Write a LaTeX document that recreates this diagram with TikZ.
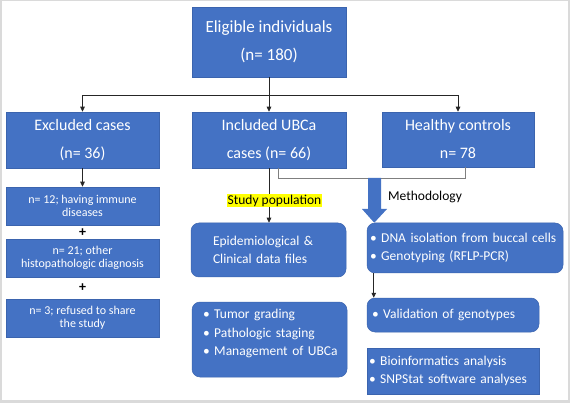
\documentclass[tikz,border=0pt]{standalone}
\usepackage{fontspec}
\setmainfont{Carlito}
\usetikzlibrary{arrows.meta,calc}
\definecolor{boxblue}{HTML}{4472C4}
\definecolor{boxedge}{HTML}{3B64AE}
\definecolor{lnk}{HTML}{262626}
\definecolor{glnk}{HTML}{7F7F7F}
\definecolor{framegray}{HTML}{DADADA}
\definecolor{hl}{HTML}{FFFF00}
\tikzset{
  bx/.style={fill=boxblue, draw=boxedge, line width=0.5pt, text=white, inner sep=1pt, align=center},
  rbx/.style={bx, rounded corners=8pt, align=left, inner ysep=0pt},
  lvA/.style={font=\fontsize{17}{28}\selectfont},
  lvB/.style={font=\fontsize{16}{28}\selectfont},
  lvC/.style={font=\fontsize{12}{13.5}\selectfont},
  lvD/.style={font=\fontsize{13.5}{18}\selectfont},
  arr/.style={draw=lnk, line width=0.8pt, -{Triangle[length=5pt,width=4.5pt]}},
  ln/.style={draw=lnk, line width=0.8pt},
  gln/.style={draw=glnk, line width=0.8pt},
  lbl/.style={text=black, inner sep=1pt, font=\fontsize{13.5}{16}\selectfont},
}
\begin{document}
\begin{tikzpicture}[x=1pt,y=-1pt]
\fill[framegray] (0,0) rectangle (570,403);
\fill[white] (1.5,1.5) rectangle (567.5,399.5);
\useasboundingbox (0,0) rectangle (570,403);

% top
\node[bx, lvA, minimum width=154pt, minimum height=70pt] (top) at (269,42) {Eligible individuals\\(n= 180)};

% level 2
\node[bx, lvB, minimum width=153pt, minimum height=56pt] (excl) at (82.5,140) {Excluded cases\\(n= 36)};
\node[bx, lvB, minimum width=154pt, minimum height=56pt] (incl) at (269,140) {Included UBCa\\cases (n= 66)};
\node[bx, lvB, minimum width=152pt, minimum height=55pt] (healthy) at (458,139.5) {Healthy controls\\n= 78};

% excluded details
\node[bx, lvC, minimum width=153pt, minimum height=38pt] (n12) at (82.5,206) {n= 12; having immune\\diseases};
\node[font=\fontsize{14}{14}\selectfont\bfseries, inner sep=0pt] (p1) at (82.5,232.5) {+};
\node[bx, lvC, minimum width=153pt, minimum height=38pt] (n21) at (82.5,258) {n= 21; other\\histopathologic diagnosis};
\node[font=\fontsize{14}{14}\selectfont\bfseries, inner sep=0pt] (p2) at (82.5,288) {+};
\node[bx, lvC, minimum width=153pt, minimum height=38pt] (n3) at (82.5,318) {n= 3; refused to share\\the study};

% study population column
\node[rbx, lvD, inner xsep=22pt, text width=111pt, minimum height=54pt] (epid) at (268.5,250) {\mbox{Epidemiological \&}\\\mbox{Clinical data files}};
\node[rbx, font=\fontsize{13.5}{18.5}\selectfont, inner xsep=11pt, text width=133pt, minimum height=75pt] (tumor) at (269.5,339.5) {\mbox{\textbullet\ Tumor grading}\\\mbox{\textbullet\ Pathologic staging}\\\mbox{\textbullet\ Management of UBCa}\\[-5pt]\rule{0pt}{0pt}};

% methodology column
\node[rbx, lvD, inner xsep=3pt, text width=190pt, minimum height=50pt] (dna) at (465,248) {\mbox{\textbullet\ DNA isolation from buccal cells}\\\mbox{\textbullet\ Genotyping (RFLP-PCR)}};
\node[rbx, lvD, inner xsep=5pt, text width=162pt, minimum height=34pt] (valid) at (453,315) {\mbox{\textbullet\ Validation of genotypes}};
\node[bx, lvD, align=left, inner ysep=0pt, inner xsep=2pt, text width=168pt, minimum height=46pt] (bio) at (453,371) {\mbox{\textbullet\ Bioinformatics analysis}\\\mbox{\textbullet\ SNPStat software analyses}};

% connectors
\coordinate (bus) at (269,95);
\draw[ln] (top.south) -- (bus);
\draw[arr] (bus) -| (excl.north);
\draw[arr] (bus) -- (incl.north);
\draw[arr] (bus) -| (healthy.north);
\draw[arr] (excl.south) -- (n12.north);
\draw[arr] (incl.south) -- (incl.south |- epid.north);
\node[lbl, fill=hl] (study) at (274.5,200.5) {Study population};
\draw[gln] ([xshift=9pt]incl.south) -- ++(0,10) -| ([xshift=7pt]healthy.south);
\coordinate (ba) at (374.5,178);
\fill[boxblue] ($(ba)+(-6.5,0)$) -- ($(ba)+(6.5,0)$) -- ($(ba)+(6.5,31)$) -- ($(ba)+(12.5,31)$) -- ($(dna.north west)+(7.5,0)$) -- ($(ba)+(-12.5,31)$) -- ($(ba)+(-6.5,31)$) -- cycle;
\node[lbl] (meth) at (425,197) {Methodology};
\draw[arr] ([xshift=7pt]dna.south west) -- ([xshift=7pt]valid.north west);
\end{tikzpicture}
\end{document}
